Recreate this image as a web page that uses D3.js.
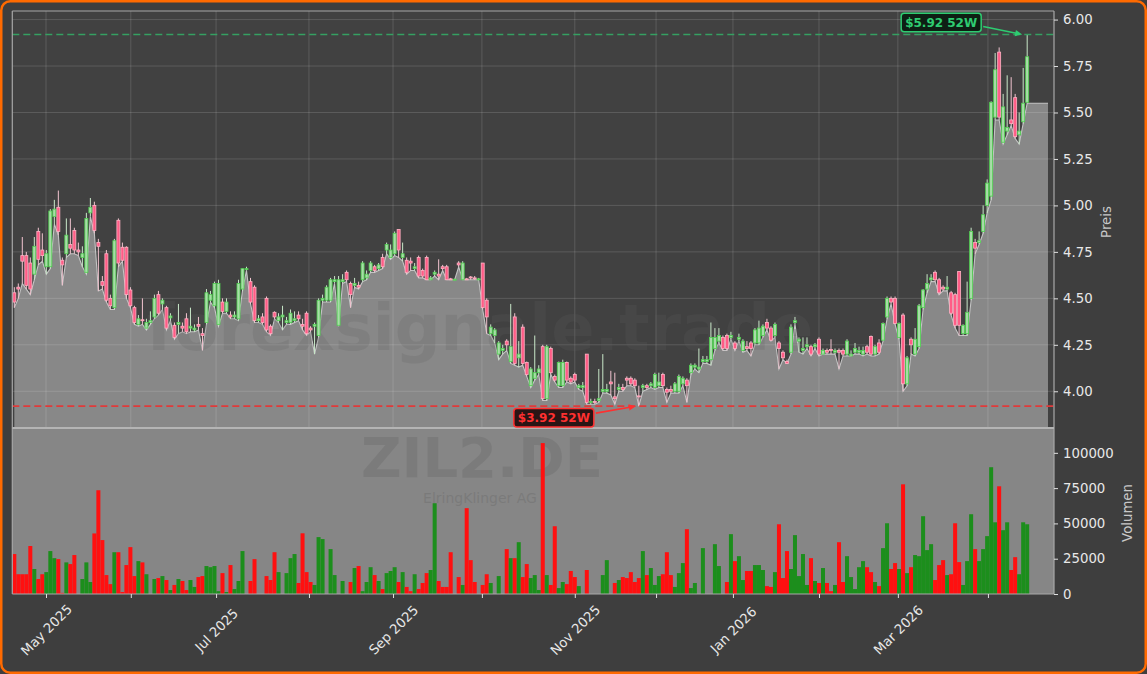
<!DOCTYPE html>
<html><head><meta charset="utf-8">
<script src="https://cdn.jsdelivr.net/npm/d3@7"></script>
<style>
html,body{margin:0;padding:0;background:#3e3e3e;}
svg{display:block;font-family:"DejaVu Sans",sans-serif;}
</style>
</head><body>
<svg id="chart" width="1147" height="674"></svg>
<script>
// ---------------- DATA ----------------
const openP = [4.53,4.56,4.73,4.73,4.69,4.63,4.86,4.76,4.67,4.67,
4.94,4.99,4.705,4.74,4.79,4.865,4.76,4.72,4.64,4.96,
5.00,4.80,4.59,4.74,4.50,4.45,4.92,4.775,4.775,4.545,
4.45,4.36,4.385,4.34,4.37,4.40,4.52,4.47,4.45,4.395,
4.355,4.36,4.35,4.39,4.34,4.33,4.36,4.31,4.37,4.49,
4.46,4.36,4.48,4.43,4.41,4.40,4.39,4.55,4.655,4.59,
4.56,4.38,4.40,4.50,4.35,4.425,4.38,4.40,4.37,4.37,
4.38,4.41,4.36,4.42,4.34,4.35,4.30,4.49,4.49,4.49,
4.59,4.355,4.59,4.64,4.58,4.57,4.57,4.60,4.61,4.65,
4.67,4.66,4.72,4.76,4.72,4.74,4.87,4.72,4.705,4.70,
4.66,4.72,4.65,4.72,4.60,4.63,4.63,4.67,4.67,4.605,
4.60,4.69,4.60,4.605,4.615,4.61,4.60,4.69,4.49,4.31,
4.30,4.20,4.22,4.27,4.16,4.40,4.18,4.345,4.155,4.03,
4.07,4.10,4.24,3.96,4.23,4.08,4.03,4.03,4.155,4.07,
4.09,4.02,4.02,4.20,3.94,3.945,3.95,4.00,4.00,4.05,
3.97,4.01,4.02,4.07,4.07,4.06,3.975,4.02,4.03,4.03,
4.02,4.03,4.09,4.01,4.01,4.00,4.00,4.04,4.06,4.10,
4.13,4.12,4.16,4.16,4.17,4.23,4.27,4.29,4.30,4.29,
4.26,4.28,4.22,4.24,4.26,4.26,4.26,4.30,4.37,4.34,
4.30,4.26,4.21,4.16,4.21,4.37,4.27,4.22,4.24,4.24,
4.24,4.28,4.20,4.22,4.225,4.21,4.22,4.22,4.20,4.19,
4.21,4.21,4.20,4.24,4.295,4.20,4.26,4.275,4.40,4.50,
4.50,4.29,4.41,4.04,4.28,4.20,4.24,4.45,4.55,4.60,
4.64,4.60,4.56,4.55,4.53,4.52,4.645,4.31,4.31,4.50,
4.80,4.80,4.86,5.00,5.05,5.475,5.825,5.34,5.40,5.46,
5.58,5.38,5.45,5.555];

const highP = [4.56,4.58,4.83,4.75,4.72,4.83,4.88,4.85,4.76,4.98,
5.03,5.08,4.72,4.93,4.93,4.88,4.80,4.78,4.96,5.04,
5.02,4.82,4.62,4.76,4.52,4.82,4.93,4.80,4.78,4.56,
4.46,4.41,4.50,4.39,4.43,4.52,4.54,4.50,4.46,4.42,
4.37,4.47,4.37,4.42,4.45,4.36,4.40,4.34,4.55,4.54,
4.59,4.60,4.50,4.50,4.43,4.43,4.60,4.66,4.67,4.61,
4.57,4.41,4.42,4.51,4.36,4.43,4.42,4.46,4.40,4.44,
4.43,4.43,4.39,4.43,4.35,4.37,4.50,4.52,4.57,4.61,
4.62,4.62,4.63,4.65,4.59,4.61,4.59,4.70,4.65,4.70,
4.68,4.69,4.74,4.80,4.79,4.86,4.87,4.80,4.72,4.72,
4.69,4.73,4.66,4.73,4.62,4.65,4.71,4.68,4.68,4.61,
4.605,4.70,4.70,4.61,4.62,4.62,4.61,4.69,4.50,4.36,
4.34,4.27,4.25,4.28,4.47,4.42,4.27,4.36,4.16,4.13,
4.30,4.14,4.25,4.25,4.24,4.09,4.16,4.17,4.16,4.08,
4.10,4.04,4.05,4.20,3.96,3.96,4.12,4.20,4.04,4.11,
4.10,4.04,4.04,4.08,4.08,4.07,4.03,4.04,4.04,4.05,
4.10,4.10,4.10,4.02,4.03,4.05,4.09,4.08,4.07,4.15,
4.15,4.23,4.19,4.19,4.37,4.34,4.34,4.30,4.31,4.32,
4.27,4.31,4.28,4.27,4.27,4.34,4.38,4.36,4.39,4.35,
4.37,4.27,4.22,4.17,4.36,4.40,4.29,4.29,4.29,4.25,
4.26,4.29,4.23,4.23,4.28,4.23,4.23,4.23,4.28,4.22,
4.26,4.24,4.24,4.25,4.30,4.25,4.28,4.37,4.51,4.51,
4.51,4.37,4.42,4.19,4.29,4.34,4.47,4.55,4.63,4.63,
4.65,4.61,4.57,4.62,4.54,4.53,4.645,4.36,4.59,4.88,
4.82,4.86,5.00,5.14,5.56,5.82,5.85,5.60,5.70,5.69,
5.60,5.50,5.74,5.92];

const lowP = [4.45,4.50,4.58,4.55,4.52,4.60,4.68,4.70,4.63,4.66,
4.90,4.84,4.57,4.72,4.74,4.74,4.73,4.67,4.63,4.94,
4.85,4.54,4.55,4.48,4.44,4.44,4.67,4.70,4.50,4.45,
4.36,4.35,4.36,4.33,4.36,4.39,4.41,4.44,4.33,4.38,
4.28,4.31,4.32,4.31,4.32,4.32,4.33,4.22,4.36,4.48,
4.45,4.35,4.42,4.42,4.39,4.39,4.38,4.54,4.65,4.47,
4.37,4.37,4.36,4.32,4.30,4.39,4.37,4.33,4.36,4.36,
4.37,4.38,4.33,4.30,4.32,4.20,4.29,4.48,4.48,4.48,
4.58,4.35,4.58,4.59,4.45,4.56,4.55,4.59,4.60,4.64,
4.64,4.65,4.66,4.74,4.71,4.73,4.72,4.70,4.63,4.65,
4.65,4.61,4.61,4.60,4.60,4.62,4.60,4.65,4.60,4.60,
4.60,4.67,4.60,4.60,4.60,4.60,4.60,4.44,4.31,4.30,
4.26,4.17,4.20,4.22,4.15,4.14,4.13,4.14,4.08,4.02,
4.06,4.09,3.95,3.95,4.09,4.05,4.02,4.02,4.05,4.04,
4.05,4.01,4.00,3.93,3.93,3.93,3.94,3.99,3.99,3.98,
3.93,4.00,4.00,4.03,4.03,4.02,3.92,4.00,4.01,4.02,
4.01,4.02,4.02,3.94,3.99,3.99,3.99,4.03,3.94,4.09,
4.12,4.10,4.15,4.15,4.14,4.22,4.26,4.22,4.22,4.28,
4.22,4.27,4.21,4.22,4.19,4.25,4.25,4.29,4.33,4.27,
4.29,4.12,4.17,4.15,4.20,4.36,4.21,4.20,4.23,4.19,
4.23,4.19,4.20,4.20,4.20,4.20,4.12,4.19,4.19,4.19,
4.20,4.20,4.19,4.20,4.19,4.19,4.20,4.27,4.39,4.47,
4.36,4.28,4.00,4.03,4.20,4.19,4.23,4.44,4.53,4.59,
4.59,4.52,4.54,4.54,4.41,4.34,4.30,4.30,4.30,4.49,
4.74,4.79,4.85,4.96,5.03,5.46,5.46,5.33,5.38,5.43,
5.36,5.33,5.44,5.55];

const closeP = [4.48,4.55,4.70,4.57,4.55,4.78,4.71,4.73,4.74,4.97,
4.98,4.86,4.68,4.84,4.77,4.76,4.75,4.74,4.93,4.99,
4.865,4.78,4.57,4.49,4.46,4.81,4.69,4.705,4.52,4.46,
4.37,4.39,4.38,4.37,4.38,4.50,4.42,4.49,4.34,4.405,
4.29,4.37,4.34,4.32,4.35,4.34,4.35,4.30,4.53,4.52,
4.58,4.58,4.43,4.48,4.40,4.41,4.58,4.66,4.66,4.48,
4.38,4.39,4.37,4.33,4.31,4.40,4.40,4.41,4.38,4.42,
4.39,4.39,4.35,4.31,4.33,4.36,4.49,4.50,4.56,4.60,
4.60,4.60,4.60,4.60,4.52,4.58,4.56,4.69,4.63,4.69,
4.65,4.68,4.67,4.79,4.76,4.85,4.76,4.74,4.64,4.69,
4.67,4.62,4.62,4.60,4.61,4.64,4.62,4.66,4.60,4.60,
4.603,4.68,4.69,4.60,4.61,4.605,4.605,4.45,4.40,4.345,
4.33,4.26,4.23,4.25,4.24,4.15,4.20,4.15,4.09,4.12,
4.10,4.12,3.96,4.24,4.10,4.06,4.155,4.155,4.06,4.05,
4.06,4.03,4.03,3.94,3.945,3.94,3.96,4.01,4.01,4.04,
3.96,4.02,4.01,4.06,4.04,4.03,3.97,4.03,4.02,4.04,
4.09,4.05,4.03,3.995,4.00,4.04,4.08,4.07,4.03,4.14,
4.14,4.13,4.17,4.17,4.29,4.29,4.30,4.23,4.23,4.30,
4.23,4.29,4.27,4.23,4.23,4.33,4.34,4.35,4.34,4.275,
4.36,4.23,4.18,4.15,4.345,4.38,4.28,4.23,4.25,4.20,
4.25,4.20,4.22,4.21,4.22,4.22,4.21,4.20,4.27,4.20,
4.23,4.22,4.22,4.21,4.20,4.24,4.21,4.365,4.50,4.48,
4.365,4.365,4.04,4.18,4.25,4.28,4.46,4.545,4.58,4.61,
4.60,4.53,4.55,4.56,4.42,4.355,4.355,4.355,4.425,4.86,
4.77,4.81,4.95,5.12,5.555,5.73,5.475,5.53,5.42,5.44,
5.37,5.40,5.55,5.80];

const volume = [28300,14000,14000,14000,34000,17700,10600,14000,15500,30400,
25400,24700,800,22400,21200,27600,0,10600,22400,8500,
42900,73500,38200,13400,7000,29600,29600,1400,20500,33200,
12700,23300,22400,14000,0,10600,11300,12700,9900,2800,
6400,10600,9200,2800,9900,5000,12000,12700,19800,19000,
19800,2000,14800,1400,20500,3500,9200,30400,0,9200,
24700,0,0,12700,9900,29600,15500,0,14800,25400,
28300,7800,43000,15500,8500,6400,40300,38900,0,31800,
13400,0,9200,0,8500,18400,19800,2000,8500,19000,
13400,9200,3500,14800,16300,19000,8500,15500,5000,2000,
14000,3500,7800,14800,17000,64300,9200,5000,5000,29600,
0,12000,6400,60800,24000,8500,0,6400,14000,7800,
0,12700,0,31800,25400,25400,36700,12000,21200,11300,
13400,2800,106900,13400,6400,48000,4200,8500,7000,16300,
12000,5600,0,17000,0,0,0,13400,24000,0,
7800,9900,12000,11300,15500,8500,11300,30400,13400,18400,
6400,12700,14000,29600,13400,5000,14800,21900,45900,4200,
7800,0,32500,0,0,35300,19800,0,8500,42400,
23300,26800,9900,16300,16300,20500,20500,17000,5600,5000,
15500,49400,11300,30400,17700,41700,12700,28300,6400,25400,
9200,7800,18400,7800,2000,6400,36700,8500,26800,12000,
3500,19000,23300,19000,15500,8500,5600,32500,50100,17700,
21900,17700,77700,14800,19000,27600,26800,55100,31100,35300,
9900,20500,24000,13400,14000,50100,22600,6400,23300,56500,
31800,23300,31800,41000,89800,50800,76300,45200,50800,17000,
26100,14000,50800,49400];

// month ticks (positions in trading-day index) and their labels
const monthTickPos = [7.92, 29.1, 50.4, 73.6, 94.6, 116.8, 140.0, 160.3, 179.5, 201.0, 220.7, 243.2];
const monthTickLabels = ["May 2025","","Jul 2025","","Sep 2025","","Nov 2025","","Jan 2026","","Mar 2026",""];
const priceTicks = [4.00, 4.25, 4.50, 4.75, 5.00, 5.25, 5.50, 5.75, 6.00];
const volumeTicks = [0, 25000, 50000, 75000, 100000];
const ticker = "ZIL2.DE";
const company = "ElringKlinger AG";
const watermark = "forexsignale.trade";

// ---------------- LAYOUT ----------------
const W = 1147, H = 674;
const L = 12.3, R = 1054;
const pTop = 11, pBot = 428, vTop = 428, vBot = 594;
const N = closeP.length;
const high52 = d3.max(highP), low52 = d3.min(lowP);
const iHigh = highP.indexOf(high52), iLow = lowP.indexOf(low52);

const svg = d3.select("#chart");
const x = d3.scaleLinear().domain([-0.5, N - 1 + 6.7]).range([L, R]);
const yP = d3.scaleLinear().domain([low52 * 0.97, high52 * 1.0213]).range([pBot, pTop]);
const yV = d3.scaleLinear().domain([0, d3.max(volume) * 1.1]).range([vBot, vTop]);

// figure background
svg.append("rect").attr("x", 1.25).attr("y", 1.25).attr("width", W - 2.5).attr("height", H - 2.5)
  .attr("rx", 9).attr("fill", "#3e3e3e").attr("stroke", "none");

// price panel
svg.append("rect").attr("x", L).attr("y", pTop).attr("width", R - L).attr("height", pBot - pTop).attr("fill", "#414141");

// price area (lows, extended to the right)
const areaPts = lowP.map((v, i) => [i, v]).concat([[N - 1 + 5.2, lowP[N - 1]]]);
svg.append("path").datum(areaPts)
  .attr("d", d3.area().x(d => x(d[0])).y0(pBot).y1(d => yP(d[1])))
  .attr("fill", "#888888");
svg.append("path").datum(areaPts)
  .attr("d", d3.line().x(d => x(d[0])).y(d => yP(d[1])))
  .attr("fill", "none").attr("stroke", "#c4c4c4").attr("stroke-width", 1.1);

// grid
const grid = svg.append("g").attr("stroke", "rgba(255,255,255,0.14)").attr("stroke-width", 1);
priceTicks.forEach(t => grid.append("line").attr("x1", L).attr("x2", R).attr("y1", yP(t)).attr("y2", yP(t)));
monthTickPos.forEach(t => grid.append("line").attr("x1", x(t)).attr("x2", x(t)).attr("y1", pTop).attr("y2", pBot));

// watermark
svg.append("text").text(watermark).attr("x", 480).attr("y", 350).attr("text-anchor", "middle")
  .attr("font-size", 64).attr("font-weight", "bold").attr("fill", "rgba(95,95,95,0.2)");

// candles
const up = i => closeP[i] >= openP[i];
const cg = svg.append("g");
d3.range(N).forEach(i => {
  const cx = x(i);
  cg.append("line").attr("x1", cx).attr("x2", cx).attr("y1", yP(highP[i])).attr("y2", yP(lowP[i]))
    .attr("stroke", up(i) ? "#c9e8c9" : "#f2c4d0").attr("stroke-width", 1);
  const top = yP(Math.max(openP[i], closeP[i])), bot = yP(Math.min(openP[i], closeP[i]));
  cg.append("rect").attr("x", cx - 1.5).attr("width", 3).attr("y", top).attr("height", Math.max(1, bot - top))
    .attr("fill", up(i) ? "#a8dca8" : "#ff5c86")
    .attr("stroke", up(i) ? "#4fd04f" : "#ffb2c4").attr("stroke-width", 0.8);
});

// 52W lines
svg.append("line").attr("x1", L).attr("x2", R).attr("y1", yP(high52)).attr("y2", yP(high52))
  .attr("stroke", "#35a062").attr("stroke-width", 1.6).attr("stroke-dasharray", "7,4");
svg.append("line").attr("x1", L).attr("x2", R).attr("y1", yP(low52)).attr("y2", yP(low52))
  .attr("stroke", "#e03a3a").attr("stroke-width", 1.6).attr("stroke-dasharray", "7,4");

// volume panel
svg.append("rect").attr("x", L).attr("y", vTop).attr("width", R - L).attr("height", vBot - vTop).attr("fill", "#868686");
svg.append("text").text(ticker).attr("x", 482).attr("y", 477).attr("text-anchor", "middle")
  .attr("font-size", 56).attr("font-weight", "bold").attr("fill", "rgba(100,100,100,0.3)");
svg.append("text").text(company).attr("x", 480).attr("y", 503).attr("text-anchor", "middle")
  .attr("font-size", 14).attr("fill", "rgba(100,100,100,0.35)");
const bw = x(1) - x(0);
svg.append("g").selectAll("rect").data(volume).join("rect")
  .attr("x", (d, i) => x(i) - bw / 2).attr("width", bw)
  .attr("y", d => yV(d)).attr("height", d => vBot - yV(d))
  .attr("fill", (d, i) => up(i) ? "#1c8e1c" : "#ff1010");

// spines
const sp = svg.append("g").attr("stroke", "#a8a8a8").attr("stroke-width", 1.2).attr("fill", "none");
sp.append("line").attr("x1", L).attr("x2", R).attr("y1", pTop).attr("y2", pTop);
sp.append("line").attr("x1", L).attr("x2", L).attr("y1", pTop).attr("y2", vBot);
sp.append("line").attr("x1", R).attr("x2", R).attr("y1", pTop).attr("y2", vBot);
sp.append("line").attr("x1", L).attr("x2", R).attr("y1", pBot).attr("y2", pBot).attr("stroke", "#b4b4b4").attr("stroke-width", 2);
sp.append("line").attr("x1", L).attr("x2", R).attr("y1", vBot).attr("y2", vBot);

// labels for 52W
function label(txt, tip, dx, dy, col, bg) {
  const g = svg.append("g");
  const cx = tip[0] + dx, cy = tip[1] + dy;
  const w = 80, h = 18.5;
  g.append("rect").attr("x", cx - w / 2).attr("y", cy - h / 2).attr("width", w).attr("height", h)
    .attr("rx", 3).attr("fill", bg).attr("stroke", col).attr("stroke-width", 1.5);
  g.append("text").text(txt).attr("x", cx).attr("y", cy).attr("dy", "0.36em").attr("text-anchor", "middle")
    .attr("font-size", 12).attr("font-weight", "bold").attr("fill", col);
  const sx = cx + 42, sy = cy + (dy < 0 ? 4 : -4.5);
  const ang = Math.atan2(tip[1] - sy, tip[0] - sx);
  g.append("line").attr("x1", sx).attr("y1", sy).attr("x2", tip[0] - 6 * Math.cos(ang)).attr("y2", tip[1] - 6 * Math.sin(ang))
    .attr("stroke", col).attr("stroke-width", 1.6);
  const a = 7, b = 3.2;
  const p = [[tip[0], tip[1]],
    [tip[0] - a * Math.cos(ang) + b * Math.sin(ang), tip[1] - a * Math.sin(ang) - b * Math.cos(ang)],
    [tip[0] - a * Math.cos(ang) - b * Math.sin(ang), tip[1] - a * Math.sin(ang) + b * Math.cos(ang)]];
  g.append("path").attr("d", "M" + p.map(q => q.join(",")).join("L") + "Z").attr("fill", col);
}
label("$" + high52.toFixed(2) + " 52W", [x(iHigh) - 5, yP(high52)], -81, -12, "#2ecc71", "#0e1f14");
label("$" + low52.toFixed(2) + " 52W", [x(iLow) - 3, yP(low52)], -82, 11.5, "#ff3030", "#2a1515");

// axes
function styleAxis(g) {
  g.select(".domain").remove();
  g.selectAll(".tick line").attr("stroke", "#e0e0e0");
  g.selectAll(".tick text").attr("fill", "#e8e8e8").attr("font-size", 13.3).attr("font-family", "DejaVu Sans");
}
svg.append("g").attr("transform", `translate(${R},0)`)
  .call(d3.axisRight(yP).tickValues(priceTicks).tickSize(4).tickPadding(5).tickFormat(d3.format(".2f")))
  .call(styleAxis);
svg.append("g").attr("transform", `translate(${R},0)`)
  .call(d3.axisRight(yV).tickValues(volumeTicks).tickSize(4).tickPadding(5).tickFormat(d3.format("d")))
  .call(styleAxis);
const xa = svg.append("g").attr("transform", `translate(0,${vBot})`)
  .call(d3.axisBottom(x).tickValues(monthTickPos).tickSize(4).tickFormat((d, i) => monthTickLabels[i]))
  .call(styleAxis);
xa.selectAll(".tick text").attr("y", 0).attr("dy", "0.35em").attr("text-anchor", "middle")
  .attr("transform", "translate(0,36) rotate(-45)");

svg.append("text").text("Preis").attr("transform", "translate(1111,222) rotate(-90)").attr("text-anchor", "middle")
  .attr("font-size", 13.3).attr("fill", "#c8c8c8");
svg.append("text").text("Volumen").attr("transform", "translate(1132,513) rotate(-90)").attr("text-anchor", "middle")
  .attr("font-size", 13.3).attr("fill", "#c8c8c8");

// orange outer frame
svg.append("rect").attr("x", 1.25).attr("y", 1.25).attr("width", W - 2.5).attr("height", H - 2.5)
  .attr("rx", 9).attr("fill", "none").attr("stroke", "#ff6a00").attr("stroke-width", 2.5);
</script>
</body></html>
